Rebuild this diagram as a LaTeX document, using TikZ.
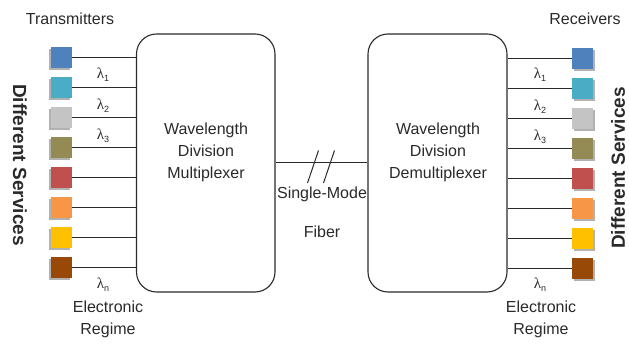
\documentclass[tikz,border=0pt]{standalone}
\usepackage{fontspec}
\setmainfont{Liberation Sans}
\newfontfamily\lamfont{Liberation Serif}
\definecolor{s1}{HTML}{4F81BD}
\definecolor{s2}{HTML}{4BACC6}
\definecolor{s3}{HTML}{C4C4C4}
\definecolor{s4}{HTML}{948A54}
\definecolor{s5}{HTML}{C0504D}
\definecolor{s6}{HTML}{F79646}
\definecolor{s7}{HTML}{FFC000}
\definecolor{s8}{HTML}{984807}
\definecolor{ink}{HTML}{2A2A2A}
\newcommand{\lamsub}[1]{{\lamfont λ}\raisebox{-3pt}{\fontsize{9}{9}\selectfont #1}}
\begin{document}
\begin{tikzpicture}[x=1pt,y=-1pt,
  txt/.style={font=\fontsize{16}{22}\selectfont, text=ink, align=center, inner sep=0pt},
  box/.style={draw=ink, line width=1.1pt, rounded corners=20pt, inner sep=0pt},
  wire/.style={draw=ink, line width=1pt},
  sq/.style={minimum size=21pt, inner sep=0pt, fill=#1},
  shade/.style={minimum size=21pt, inner sep=0pt, fill=black!30},
  lam/.style={font=\fontsize{15}{15}\selectfont, text=ink, inner sep=0pt},
  side/.style={font=\fontsize{19}{19}\selectfont\bfseries, text=ink, inner sep=0pt}
]
\useasboundingbox (0,0) rectangle (629,344);
\fill[white] (0,0) rectangle (629,344);

% boxes
\node[box, minimum width=138.5pt, minimum height=258pt] (mux) at (205.75,163) {};
\node[box, minimum width=139pt, minimum height=258pt] (demux) at (437.5,163) {};
\node[txt] (muxt) at (206,152) {Wavelength\\Division\\Multiplexer};
\node[txt] (demuxt) at (438,152) {Wavelength\\Division\\Demultiplexer};

% fiber
\draw[wire] (mux.east) -- (demux.west);
\draw[wire] (307.5,183) -- (318.5,150.5);
\draw[wire] (323.5,183) -- (334.5,150.5);
\node[txt] (smf) at (322,194) {Single-Mode};
\node[txt] (fib) at (322,232) {Fiber};

% transmitters
\foreach \i in {1,...,8} {
  \pgfmathsetmacro\yy{58+30*(\i-1)}
  \node[shade] at (59.5,\yy+2) {};
  \node[sq=s\i] (t\i) at (61.5,\yy) {};
  \draw[wire] (t\i.east) -- (t\i.east -| mux.west);
}
% receivers
\foreach \i in {1,...,8} {
  \pgfmathsetmacro\yy{59+30*(\i-1)}
  \node[shade] at (584.5,\yy+2) {};
  \node[sq=s\i] (r\i) at (582.5,\yy) {};
  \draw[wire] (r\i.west -| demux.east) -- (r\i.west);
}

% lambda labels
\node[lam] (l1) at (103,75) {\lamsub{1}};
\node[lam] (l2) at (103,106) {\lamsub{2}};
\node[lam] (l3) at (103,136) {\lamsub{3}};
\node[lam] (ln) at (103,285) {\lamsub{n}};
\node[lam] (m1) at (540,75) {\lamsub{1}};
\node[lam] (m2) at (540,107) {\lamsub{2}};
\node[lam] (m3) at (540,137) {\lamsub{3}};
\node[lam] (mn) at (540,285) {\lamsub{n}};

% headings
\node[txt] (tx) at (70,19) {Transmitters};
\node[txt] (rx) at (585,19) {Receivers};
\node[txt] (erl) at (108,319) {Electronic\\Regime};
\node[txt] (err) at (541,319) {Electronic\\Regime};
\node[side, rotate=-90] (dsl) at (20,165) {Different Services};
\node[side, rotate=90] (dsr) at (618,168) {Different Services};
\end{tikzpicture}
\end{document}
